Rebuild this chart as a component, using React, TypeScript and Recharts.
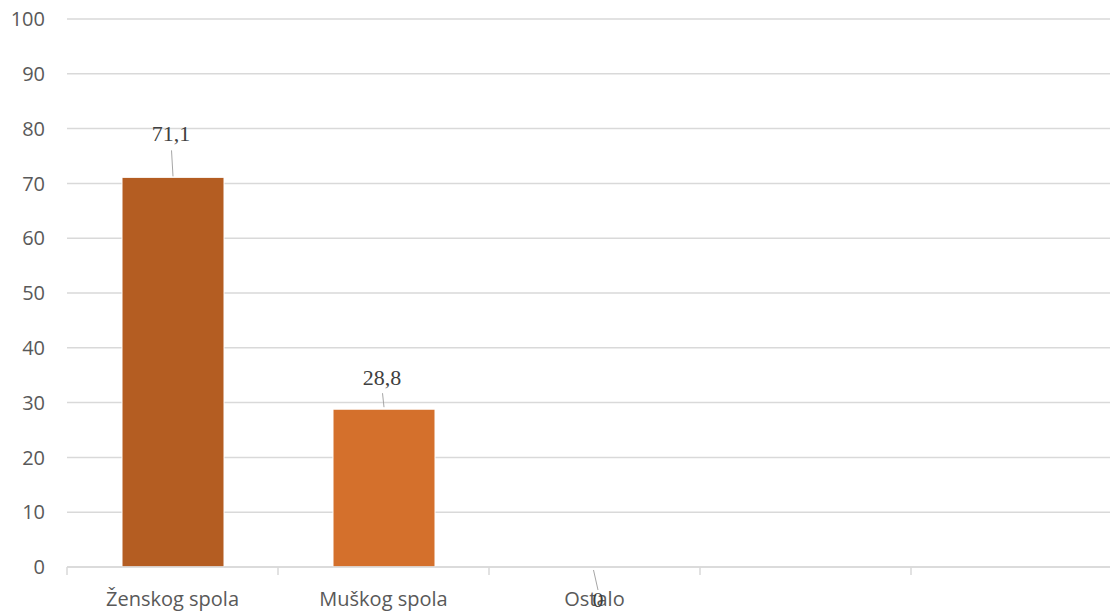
import { Bar, BarChart, CartesianGrid, Cell, LabelList, XAxis, YAxis } from 'recharts';

const categories = ['Ženskog spola', 'Muškog spola', 'Ostalo', ' ', '  '];
const values = [71.1, 28.8, 0, null, null];
const yTicks = [0, 10, 20, 30, 40, 50, 60, 70, 80, 90, 100];
const barColors = ['#B45D22', '#D4702C', '#D4702C', '#D4702C', '#D4702C'];

const data = categories.map((name, i) => ({ name, value: values[i] }));

const CHART_W = 1125;
const CHART_H = 612;
const MARGIN = { top: 19, right: 3, left: 0, bottom: 0 };
const Y_W = 67;
const HALF_BAND = (CHART_W - MARGIN.right - Y_W) / categories.length / 2;

const SANS = "'Open Sans', 'Liberation Sans', sans-serif";
const SERIF = "'Times New Roman', 'Liberation Serif', serif";

// excel leader-line placements, per point (relative to bar top)
const labelPlacement = [
    { text: -36, from: -27, to: -1, tx: -2, lx: -1.5, ex: 0 },
    { text: -24, from: -16, to: -2, tx: -2, lx: -1.5, ex: 0 },
    { text: 41, from: 4, to: 24, tx: 3, lx: -1.5, ex: 3 }
];

const fmt = (v: number) => String(v).replace('.', ',');

const ValueLabel = (props: any) => {
    const { x, y, width, value, index } = props;
    if (value === null || value === undefined) return null;
    const p = labelPlacement[index] || labelPlacement[0];
    const cx = x + width / 2;
    return (
        <g>
            <line
                x1={cx + p.lx}
                y1={y + p.from}
                x2={cx + p.ex}
                y2={y + p.to}
                stroke="#a6a6a6"
                strokeWidth={1}
            />
            <text
                x={cx + p.tx}
                y={y + p.text}
                textAnchor="middle"
                fontSize={22}
                fontFamily={SERIF}
                fill="#404040"
            >
                {fmt(value)}
            </text>
        </g>
    );
};

const CategoryTick = (props: any) => {
    const { x, y, payload } = props;
    return (
        <g>
            <line x1={x - HALF_BAND} y1={y} x2={x - HALF_BAND} y2={y + 8} stroke="#d9d9d9" strokeWidth={1.5} />
            <text x={x} y={y + 39} textAnchor="middle" fontSize={20} fontFamily={SANS} fill="#595959">
                {payload.value}
            </text>
        </g>
    );
};

export default function App() {
    return (
        <div
            style={{
                position   : 'absolute',
                left       : 0,
                top        : 0,
                width      : 1110,
                height     : 612,
                overflow   : 'hidden',
                background : '#fff'
            }}
        >
            <BarChart width={CHART_W} height={CHART_H} data={data} margin={MARGIN}>
                <CartesianGrid vertical={false} stroke="#d9d9d9" strokeWidth={1.5} />
                <XAxis
                    dataKey="name"
                    height={45}
                    axisLine={{ stroke: '#d9d9d9', strokeWidth: 1.5 }}
                    tickLine={false}
                    tickSize={0}
                    tickMargin={0}
                    interval={0}
                    tick={<CategoryTick />}
                />
                <YAxis
                    width={Y_W}
                    domain={[0, 100]}
                    ticks={yTicks}
                    axisLine={false}
                    tickLine={false}
                    tickSize={8}
                    tickMargin={14}
                    tick={{ fill: '#595959', fontSize: 20, fontFamily: SANS }}
                />
                <Bar
                    dataKey="value"
                    barSize={102}
                    minPointSize={1}
                    stroke="#fff"
                    strokeWidth={1}
                    isAnimationActive={false}
                >
                    {data.map((d, i) => (
                        <Cell
                            key={`cell-${i}`}
                            fill={d.value === 0 ? 'none' : barColors[i]}
                            stroke={d.value === 0 ? 'none' : '#fff'}
                        />
                    ))}
                    <LabelList dataKey="value" content={<ValueLabel />} />
                </Bar>
            </BarChart>
        </div>
    );
}
